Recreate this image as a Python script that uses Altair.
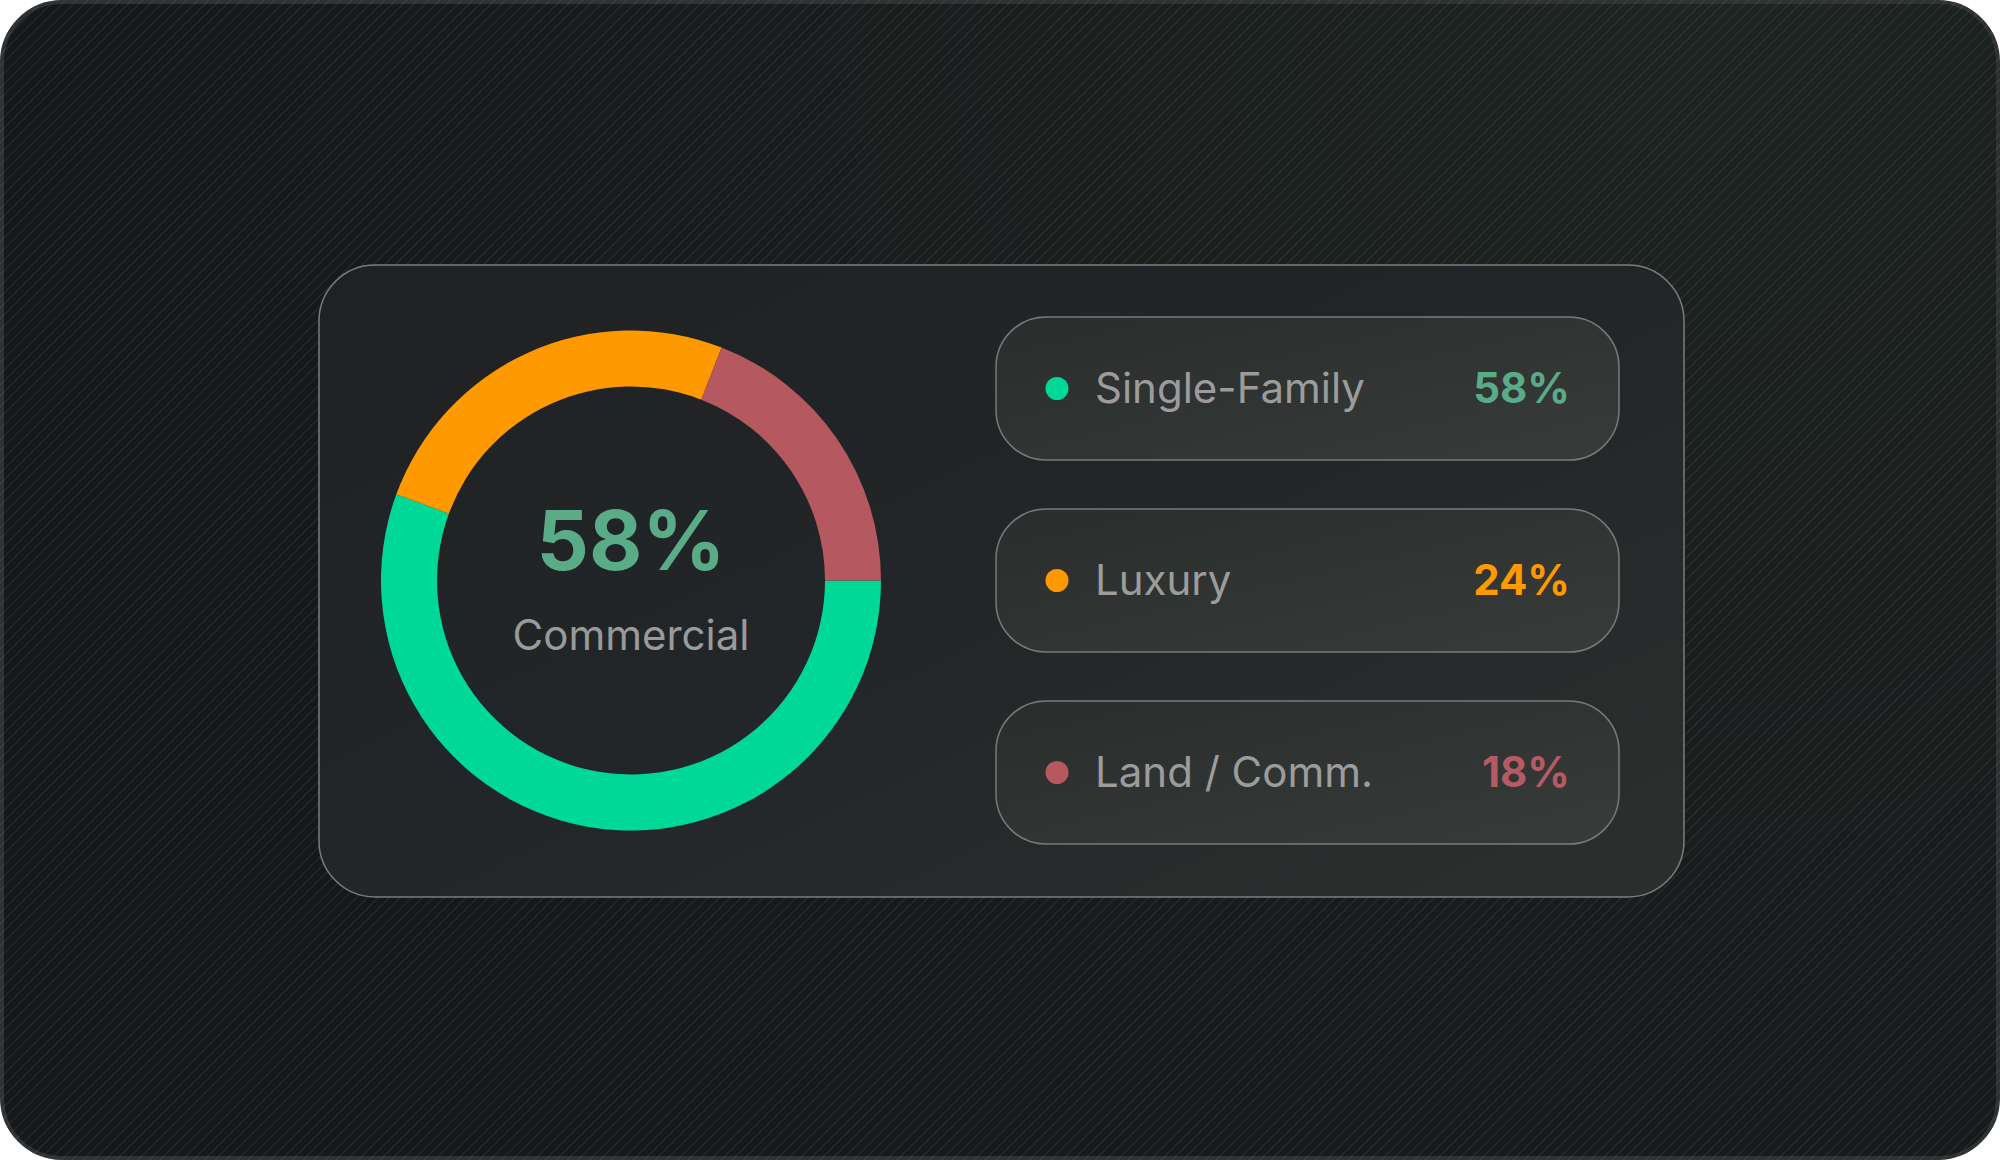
import math
import numpy as np
import pandas as pd
import altair as alt

# ---- data ----
categories = ["Single-Family", "Luxury", "Land / Comm."]
share_labels = ["58%", "24%", "18%"]
# ring segment sizes as drawn in the picture (share of the full circle, %)
ring_values = [55.6, 25.3, 19.1]
center_value = ["58%"]
center_label = ["Commercial"]

# ---- styles ----
dot_colors = ["#00d897", "#ff9900", "#b65860"]
value_colors = ["#5aab87", "#ff9900", "#b65a63"]

W, H = 2000, 1160
CX, CY = 631, 580.5

df = pd.DataFrame({
    "cat": categories,
    "ring": ring_values,
    "lab": share_labels,
    "idx": list(range(len(categories))),
    "dot": dot_colors,
    "vcol": value_colors,
})

one = pd.DataFrame({"v": center_value, "l": center_label})

# background frame
frame = alt.Chart(one).mark_rect(
    cornerRadius=60,
    stroke="#2f3232",
    strokeWidth=4,
    fill=alt.Gradient(
        gradient="radial",
        x1=0.85, y1=0.2, r1=0.0,
        x2=0.85, y2=0.2, r2=0.85,
        stops=[
            alt.GradientStop(offset=0, color="#1d2421"),
            alt.GradientStop(offset=0.55, color="#181c1c"),
            alt.GradientStop(offset=1, color="#15171a"),
        ],
    ),
).encode(x=alt.value(2), x2=alt.value(W - 2), y=alt.value(2), y2=alt.value(H - 2))

# diagonal stripe texture
offs = np.arange(-H, W + 11, 11)
stripe_df = pd.DataFrame({"x": offs, "x2": offs + H, "y": [H] * len(offs), "y2": [0] * len(offs)})
stripes = alt.Chart(stripe_df).mark_rule(
    color="#ffffff", strokeWidth=1.5, opacity=0.065
).encode(
    x=alt.X("x:Q", scale=None),
    x2="x2:Q",
    y=alt.Y("y:Q", scale=None),
    y2="y2:Q",
)

# card
card = alt.Chart(one).mark_rect(
    cornerRadius=56,
    stroke="#8a8d8d",
    strokeWidth=1.5,
    strokeOpacity=0.85,
    fill=alt.Gradient(
        gradient="linear",
        x1=0, y1=0, x2=1, y2=1,
        stops=[
            alt.GradientStop(offset=0, color="#1f2123"),
            alt.GradientStop(offset=0.5, color="#232628"),
            alt.GradientStop(offset=1, color="#2b302e"),
        ],
    ),
).encode(x=alt.value(319), x2=alt.value(1684), y=alt.value(265), y2=alt.value(897))

# donut
donut = alt.Chart(df).mark_arc(radius=250, radius2=194).encode(
    theta=alt.Theta(
        "ring:Q",
        stack=True,
        scale=alt.Scale(domain=[0, 100], range=[math.pi / 2, math.pi / 2 + 2 * math.pi]),
    ),
    color=alt.Color("dot:N", scale=None),
    order=alt.Order("idx:Q"),
    x=alt.value(CX),
    y=alt.value(CY),
)

center_v = alt.Chart(one).mark_text(
    font="Inter", fontSize=82, fontWeight="bold", color="#5aab87",
    align="center", baseline="alphabetic",
).encode(x=alt.value(CX), y=alt.value(570), text="v:N")

center_l = alt.Chart(one).mark_text(
    font="Inter", fontSize=42, color="#9a9a9a",
    align="center", baseline="alphabetic",
).encode(x=alt.value(CX), y=alt.value(650), text="l:N")

base = alt.Chart(df).transform_calculate(
    cy="388.5 + 192 * datum.idx",
    top="datum.cy - 71.5",
    bot="datum.cy + 71.5",
    base="datum.cy + 14.5",
)

pills = base.mark_rect(
    cornerRadius=50,
    stroke="#8a8d8d",
    strokeWidth=1.5,
    strokeOpacity=0.8,
    fill=alt.Gradient(
        gradient="linear",
        x1=0, y1=0, x2=1, y2=1,
        stops=[
            alt.GradientStop(offset=0, color="#2a2d2c"),
            alt.GradientStop(offset=1, color="#373b39"),
        ],
    ),
).encode(
    x=alt.value(996), x2=alt.value(1619),
    y=alt.Y("top:Q", scale=None), y2="bot:Q",
)

dots = base.mark_circle(size=530, opacity=1).encode(
    x=alt.value(1057),
    y=alt.Y("cy:Q", scale=None),
    color=alt.Color("dot:N", scale=None),
)

labels = base.mark_text(
    font="Inter", fontSize=42, color="#9c9c9c", align="left", baseline="alphabetic",
).encode(x=alt.value(1095), y=alt.Y("base:Q", scale=None), text="cat:N")

values = base.mark_text(
    font="Inter", fontSize=42, fontWeight="bold", align="right", baseline="alphabetic",
).encode(
    x=alt.value(1570),
    y=alt.Y("base:Q", scale=None),
    text="lab:N",
    color=alt.Color("vcol:N", scale=None),
)

chart = alt.layer(
    frame, stripes, card, donut, center_v, center_l, pills, dots, labels, values
).properties(
    width=W, height=H, padding=0, autosize="none", background="white"
).configure_view(strokeWidth=0)

chart.save("out.html", embed_options={"renderer": "svg", "actions": False})
